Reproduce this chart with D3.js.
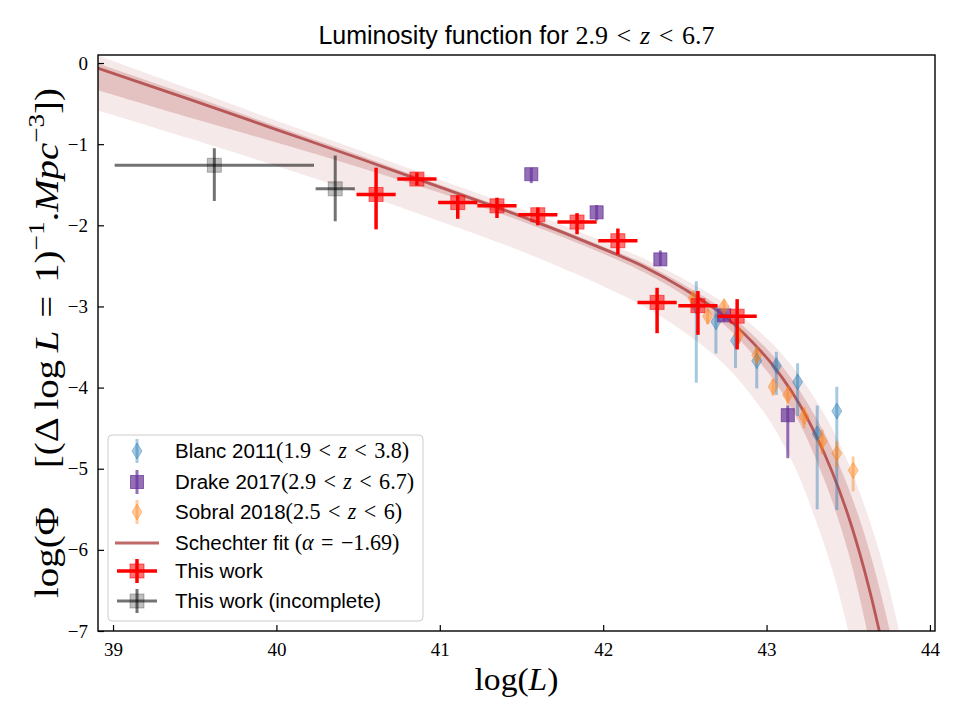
<!DOCTYPE html>
<html>
<head>
<meta charset="utf-8">
<script src="https://cdn.jsdelivr.net/npm/d3@7"></script>
<style>
body{margin:0;background:#fff;}
</style>
</head>
<body>
<svg id="chart" width="960" height="720"></svg>
<script>
// ---- data ----
var x_ticks = [39, 40, 41, 42, 43, 44];
var y_ticks = [0, -1, -2, -3, -4, -5, -6, -7];

// this work
var work_L   = [40.61, 40.86, 41.11, 41.35, 41.60, 41.84, 42.09, 42.33, 42.58, 42.82];
var work_phi = [-1.62, -1.43, -1.72, -1.76, -1.87, -1.96, -2.19, -2.95, -2.99, -3.12];
var work_hi  = [-1.29, -1.35, -1.63, -1.66, -1.78, -1.85, -2.04, -2.77, -2.81, -2.91];
var work_lo  = [-2.05, -1.51, -1.92, -1.91, -2.00, -2.11, -2.36, -3.33, -3.35, -3.53];
var work_dL  = [0.12, 0.12, 0.12, 0.12, 0.12, 0.12, 0.12, 0.12, 0.12, 0.12];

// this work (incomplete)
var inc_L   = [39.62, 40.36];
var inc_phi = [-1.26, -1.55];
var inc_hi  = [-1.05, -1.14];
var inc_lo  = [-1.70, -1.95];
var inc_Lmin = [39.01, 40.24];
var inc_Lmax = [40.23, 40.48];

// Blanc 2011
var blanc_L   = [42.57, 42.69, 42.81, 42.94, 43.06, 43.19, 43.31, 43.43];
var blanc_phi = [-3.00, -3.19, -3.42, -3.67, -3.73, -3.93, -4.57, -4.29];
var blanc_hi  = [-2.69, -3.00, -3.10, -3.50, -3.56, -3.70, -4.22, -3.99];
var blanc_lo  = [-3.94, -3.58, -3.76, -4.01, -4.09, -4.35, -5.50, -5.51];

// Drake 2017
var drake_L   = [41.56, 41.96, 42.35, 42.74, 43.13];
var drake_phi = [-1.37, -1.84, -2.42, -3.11, -4.34];
var drake_hi  = [-1.29, -1.75, -2.31, -3.05, -4.22];
var drake_lo  = [-1.48, -1.94, -2.50, -3.18, -4.87];

// Sobral 2018
var sobral_L   = [42.55, 42.64, 42.74, 42.83, 42.94, 43.04, 43.13, 43.23, 43.34, 43.43, 43.53];
var sobral_phi = [-2.90, -3.12, -3.00, -3.35, -3.60, -3.99, -4.09, -4.36, -4.66, -4.81, -5.02];
var sobral_hi  = [-2.82, -3.03, -2.92, -3.25, -3.49, -3.89, -3.98, -4.24, -4.52, -4.66, -4.85];
var sobral_lo  = [-2.99, -3.22, -3.09, -3.46, -3.72, -4.10, -4.21, -4.50, -4.82, -4.98, -5.28];

// Schechter fit and its two bands
var fit_L     = [38.9, 39.5, 40.0, 40.5, 41.0, 41.5, 42.0, 42.25, 42.5, 42.75, 43.0, 43.1, 43.2, 43.3, 43.4, 43.5, 43.6, 43.7, 43.8, 43.9];
var fit_phi   = [-0.06, -0.47, -0.82, -1.17, -1.53, -1.89, -2.29, -2.51, -2.79, -3.13, -3.63, -3.89, -4.20, -4.58, -5.03, -5.58, -6.26, -7.09, -8.12, -9.40];
var inner_hi  = [0.00, -0.42, -0.78, -1.13, -1.50, -1.86, -2.26, -2.47, -2.74, -3.06, -3.52, -3.75, -4.03, -4.36, -4.75, -5.23, -5.81, -6.54, -7.42, -8.50];
var inner_lo  = [-0.33, -0.69, -0.98, -1.28, -1.60, -1.95, -2.35, -2.58, -2.87, -3.24, -3.79, -4.08, -4.43, -4.87, -5.39, -6.03, -6.86, -7.89, -9.12, -10.6];
var outer_hi  = [0.10, -0.34, -0.71, -1.07, -1.44, -1.80, -2.20, -2.41, -2.67, -2.97, -3.39, -3.60, -3.85, -4.15, -4.50, -4.93, -5.46, -6.09, -6.90, -7.90];
var outer_lo  = [-0.58, -0.95, -1.27, -1.60, -1.95, -2.32, -2.75, -3.00, -3.32, -3.73, -4.35, -4.69, -5.10, -5.63, -6.23, -7.00, -7.96, -9.09, -10.4, -12.0];

// ---- drawing ----
var SANS = "'Liberation Sans', Arial, sans-serif",
    MATH = "'Liberation Serif', 'DejaVu Serif', serif",
    BROWN = "#a52a2a",
    BLUE = "#1f77b4",
    ORANGE = "#ff7f0e",
    PURPLE = "#663399",
    REL = "\u2004";   // spacing round relations, close to TeX thick space

var box = {left: 98, right: 935, top: 55, bottom: 631};
var svg = d3.select("#chart");

var x = d3.scaleLinear().domain([38.908, 44.031]).range([box.left, box.right]);
var y = d3.scaleLinear().domain([-7, 0.099]).range([box.bottom, box.top]);

svg.append("defs").append("clipPath").attr("id", "plotclip")
    .append("rect")
    .attr("x", box.left).attr("y", box.top)
    .attr("width", box.right - box.left).attr("height", box.bottom - box.top);

var plot = svg.append("g").attr("clip-path", "url(#plotclip)");

function zip(){
    var cols = arguments;
    return cols[0].map(function(d, i){
        var row = [];
        for(var j = 0; j < cols.length; j++) row.push(cols[j][i]);
        return row;
    });
}

function drawBand(hi, lo, opacity){
    var area = d3.area()
        .x(function(d){ return x(d[0]); })
        .y0(function(d){ return y(d[2]); })
        .y1(function(d){ return y(d[1]); })
        .curve(d3.curveCatmullRom);
    plot.append("path")
        .datum(zip(fit_L, hi, lo))
        .attr("d", area)
        .attr("fill", BROWN)
        .attr("fill-opacity", opacity);
}

drawBand(outer_hi, outer_lo, 0.1);
drawBand(inner_hi, inner_lo, 0.2);

var line = d3.line()
    .x(function(d){ return x(d[0]); })
    .y(function(d){ return y(d[1]); })
    .curve(d3.curveCatmullRom);
plot.append("path")
    .datum(zip(fit_L, fit_phi))
    .attr("d", line)
    .attr("fill", "none")
    .attr("stroke", BROWN)
    .attr("stroke-opacity", 0.7)
    .attr("stroke-width", 2.8);

function diamond(g, color, opacity){
    g.append("path")
        .attr("d", "M0,-8L5,0L0,8L-5,0Z")
        .attr("fill", color).attr("fill-opacity", opacity)
        .attr("stroke", color).attr("stroke-opacity", opacity).attr("stroke-width", 1);
}

function square(g, color, fillOpacity, size){
    g.append("rect")
        .attr("x", -size / 2).attr("y", -size / 2)
        .attr("width", size).attr("height", size)
        .attr("fill", color).attr("fill-opacity", fillOpacity)
        .attr("stroke", color).attr("stroke-opacity", fillOpacity).attr("stroke-width", 1);
}

// generic errorbar series: rows of [L, phi, hi, lo, Lmin, Lmax]
function drawSeries(rows, style){
    var g = plot.append("g");
    rows.forEach(function(r){
        if(r[4] !== undefined){
            g.append("line")
                .attr("x1", x(r[4])).attr("x2", x(r[5]))
                .attr("y1", y(r[1])).attr("y2", y(r[1]))
                .attr("stroke", style.barColor).attr("stroke-opacity", style.barOpacity)
                .attr("stroke-width", style.barWidth);
        }
        g.append("line")
            .attr("x1", x(r[0])).attr("x2", x(r[0]))
            .attr("y1", y(r[2])).attr("y2", y(r[3]))
            .attr("stroke", style.barColor).attr("stroke-opacity", style.barOpacity)
            .attr("stroke-width", style.barWidth);
        var m = g.append("g").attr("transform", "translate(" + x(r[0]) + "," + y(r[1]) + ")");
        style.marker(m);
    });
}

var styles = {
    blanc: {barColor: BLUE, barOpacity: 0.4, barWidth: 3, marker: function(m){ diamond(m, BLUE, 0.4); }},
    drake: {barColor: PURPLE, barOpacity: 0.7, barWidth: 3, marker: function(m){ square(m, PURPLE, 0.7, 13); }},
    sobral: {barColor: ORANGE, barOpacity: 0.4, barWidth: 3, marker: function(m){ diamond(m, ORANGE, 0.4); }},
    work: {barColor: "red", barOpacity: 1, barWidth: 3.5, marker: function(m){ square(m, "red", 0.55, 14); }},
    inc: {barColor: "black", barOpacity: 0.55, barWidth: 3, marker: function(m){ square(m, "black", 0.25, 14); }}
};

drawSeries(zip(blanc_L, blanc_phi, blanc_hi, blanc_lo), styles.blanc);
drawSeries(zip(drake_L, drake_phi, drake_hi, drake_lo), styles.drake);
drawSeries(zip(sobral_L, sobral_phi, sobral_hi, sobral_lo), styles.sobral);
drawSeries(zip(work_L, work_phi, work_hi, work_lo,
    work_L.map(function(d, i){ return d - work_dL[i]; }),
    work_L.map(function(d, i){ return d + work_dL[i]; })), styles.work);
drawSeries(zip(inc_L, inc_phi, inc_hi, inc_lo, inc_Lmin, inc_Lmax), styles.inc);

// ---- axes ----
function fmt(d){ return d < 0 ? "\u2212" + Math.abs(d) : String(d); }

var xAxis = svg.append("g")
    .attr("transform", "translate(0," + box.bottom + ")")
    .call(d3.axisBottom(x).tickValues(x_ticks).tickSize(-6).tickPadding(12).tickFormat(fmt));
var yAxis = svg.append("g")
    .attr("transform", "translate(" + box.left + ",0)")
    .call(d3.axisLeft(y).tickValues(y_ticks).tickSize(-6).tickPadding(10).tickFormat(fmt));

[xAxis, yAxis].forEach(function(a){
    a.select(".domain").remove();
    a.selectAll(".tick line").attr("stroke", "#000").attr("stroke-width", 1.2);
    a.selectAll(".tick text")
        .attr("fill", "#000")
        .style("font-family", MATH)
        .style("font-size", "19px");
});

svg.append("rect")
    .attr("x", box.left).attr("y", box.top)
    .attr("width", box.right - box.left).attr("height", box.bottom - box.top)
    .attr("fill", "none").attr("stroke", "#000").attr("stroke-width", 1.4);

// text helper: segments of [text, font, italic, up, down]; math is set a little larger
function richText(sel, segs, size, mathScale){
    mathScale = mathScale || 1;
    segs.forEach(function(s){
        var isMath = s[1] == "m";
        var fs = isMath ? size * mathScale : size;
        var t = sel.append("tspan")
            .text(s[0])
            .style("font-family", isMath ? MATH : SANS)
            .style("font-style", s[2] ? "italic" : "normal")
            .style("font-size", fs + "px");
        if(s[3]){
            t.attr("dy", -size * 0.42).style("font-size", (fs * 0.7) + "px");
        }
        else if(s[4]){
            t.attr("dy", size * 0.42);
        }
    });
}

var title = svg.append("text")
    .attr("x", (box.left + box.right) / 2).attr("y", 44)
    .attr("text-anchor", "middle")
    .attr("xml:space", "preserve");
richText(title, [["Luminosity function for ", "s"], ["2.9" + REL + "<" + REL, "m"], ["z", "m", true], [REL + "<" + REL + "6.7", "m"]], 25, 1.04);

var xlab = svg.append("text")
    .attr("x", (box.left + box.right) / 2).attr("y", 690)
    .attr("text-anchor", "middle")
    .attr("textLength", 84)
    .attr("lengthAdjust", "spacingAndGlyphs");
richText(xlab, [["log(", "m"], ["L", "m", true], [")", "m"]], 31);

var ylab = svg.append("text")
    .attr("transform", "translate(58," + ((box.top + box.bottom) / 2) + ") rotate(-90)")
    .attr("text-anchor", "middle")
    .attr("xml:space", "preserve")
    .attr("textLength", 510)
    .attr("lengthAdjust", "spacingAndGlyphs");
richText(ylab, [
    ["log(\u03A6\u2003[(\u0394\u2009log\u2009", "m"], ["L", "m", true], [REL + "=" + REL + "1)", "m"],
    ["\u22121", "m", false, true], [".", "m", false, false, true],
    ["Mpc", "m", true], ["\u22123", "m", false, true], ["])", "m", false, false, true]
], 33);

// ---- legend ----
var legend = svg.append("g");
legend.append("rect")
    .attr("x", 108).attr("y", 435).attr("width", 315).attr("height", 186)
    .attr("rx", 4).attr("ry", 4)
    .attr("fill", "#fff").attr("fill-opacity", 0.8)
    .attr("stroke", "#cccccc").attr("stroke-width", 1);

var legend_rows = [
    {y: 451, key: "blanc", segs: [["Blanc 2011", "s"], ["(1.9" + REL + "<" + REL, "m"], ["z", "m", true], [REL + "<" + REL + "3.8)", "m"]]},
    {y: 482, key: "drake", segs: [["Drake 2017", "s"], ["(2.9" + REL + "<" + REL, "m"], ["z", "m", true], [REL + "<" + REL + "6.7)", "m"]]},
    {y: 512, key: "sobral", segs: [["Sobral 2018", "s"], ["(2.5" + REL + "<" + REL, "m"], ["z", "m", true], [REL + "<" + REL + "6)", "m"]]},
    {y: 543, key: "fit", segs: [["Schechter fit ", "s"], ["(", "m"], ["\u03B1", "m", true], [REL + "=" + REL + "\u22121.69)", "m"]]},
    {y: 571, key: "work", segs: [["This work", "s"]]},
    {y: 601, key: "inc", segs: [["This work (incomplete)", "s"]]}
];

legend_rows.forEach(function(r){
    var g = legend.append("g").attr("transform", "translate(137," + r.y + ")");
    var st = styles[r.key];
    if(r.key == "fit"){
        g.append("line").attr("x1", -22).attr("x2", 22).attr("y1", 0).attr("y2", 0)
            .attr("stroke", BROWN).attr("stroke-opacity", 0.7).attr("stroke-width", 2.8);
    }
    else{
        if(r.key == "work" || r.key == "inc"){
            g.append("line").attr("x1", -20).attr("x2", 20).attr("y1", 0).attr("y2", 0)
                .attr("stroke", st.barColor).attr("stroke-opacity", st.barOpacity).attr("stroke-width", st.barWidth);
        }
        g.append("line").attr("x1", 0).attr("x2", 0).attr("y1", -12).attr("y2", 12)
            .attr("stroke", st.barColor).attr("stroke-opacity", st.barOpacity).attr("stroke-width", st.barWidth);
        st.marker(g);
    }
    var t = legend.append("text")
        .attr("x", 175).attr("y", r.y + 7)
        .attr("xml:space", "preserve");
    richText(t, r.segs, 20.5, 1.08);
});
</script>
</body>
</html>
